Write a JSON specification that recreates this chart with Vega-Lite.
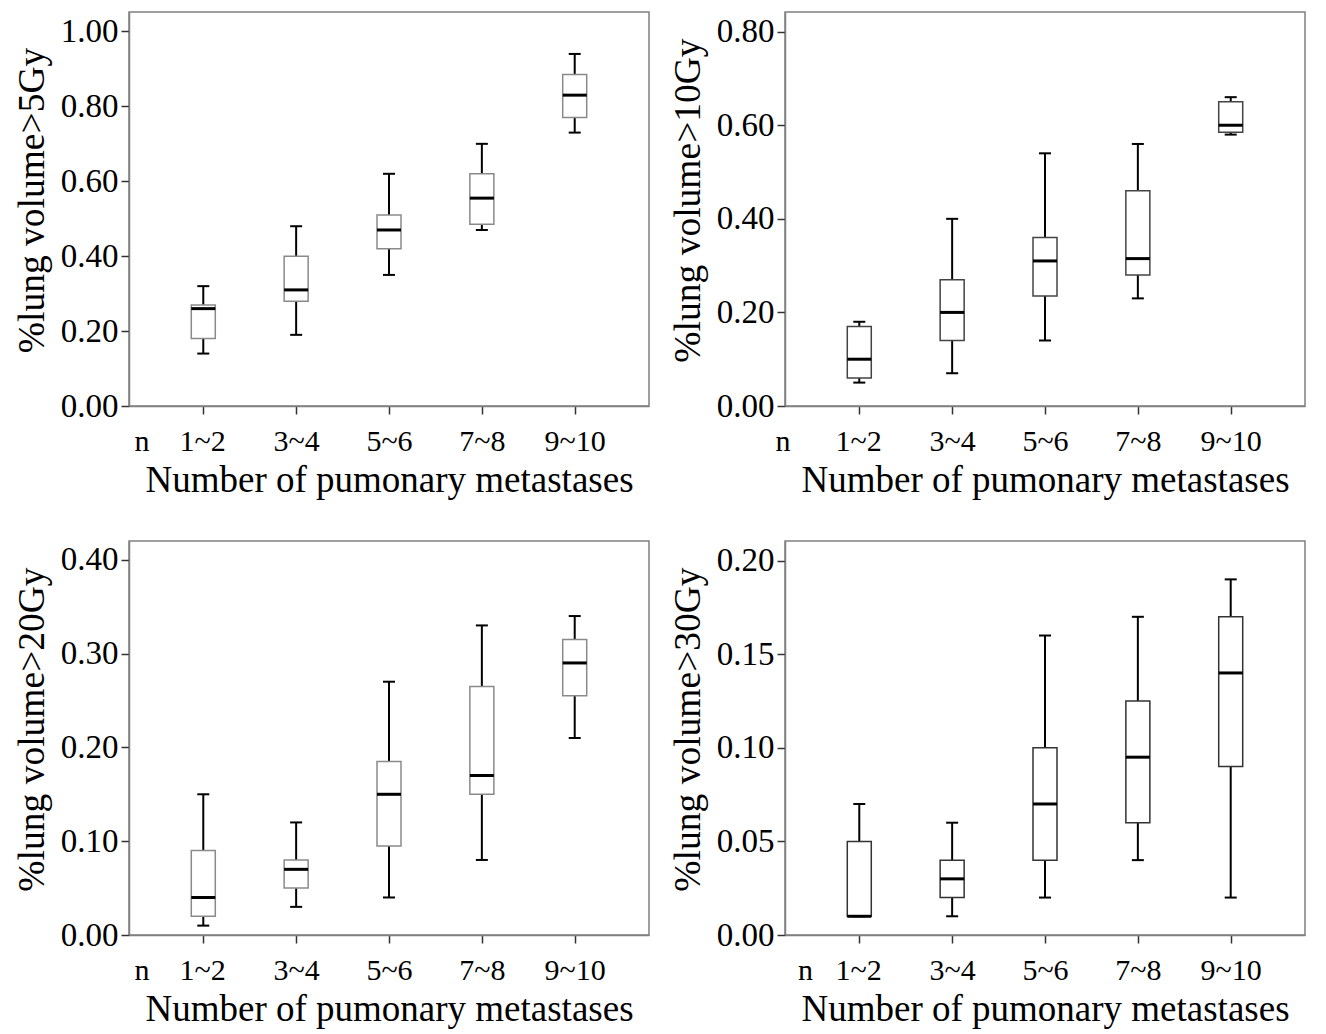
{
  "$schema": "https://vega.github.io/schema/vega-lite/v6.json",
  "background": "white",
  "padding": {"left": 12, "top": 11, "right": 5, "bottom": 5},
  "datasets": {
    "p5": [
      {"cat": "1~2", "min": 0.14, "q1": 0.18, "median": 0.26, "q3": 0.27, "max": 0.32},
      {"cat": "3~4", "min": 0.19, "q1": 0.28, "median": 0.31, "q3": 0.40, "max": 0.48},
      {"cat": "5~6", "min": 0.35, "q1": 0.42, "median": 0.47, "q3": 0.51, "max": 0.62},
      {"cat": "7~8", "min": 0.47, "q1": 0.485, "median": 0.555, "q3": 0.62, "max": 0.70},
      {"cat": "9~10", "min": 0.73, "q1": 0.77, "median": 0.83, "q3": 0.885, "max": 0.94}
    ],
    "p10": [
      {"cat": "1~2", "min": 0.05, "q1": 0.06, "median": 0.10, "q3": 0.17, "max": 0.18},
      {"cat": "3~4", "min": 0.07, "q1": 0.14, "median": 0.20, "q3": 0.27, "max": 0.40},
      {"cat": "5~6", "min": 0.14, "q1": 0.235, "median": 0.31, "q3": 0.36, "max": 0.54},
      {"cat": "7~8", "min": 0.23, "q1": 0.28, "median": 0.315, "q3": 0.46, "max": 0.56},
      {"cat": "9~10", "min": 0.58, "q1": 0.585, "median": 0.60, "q3": 0.65, "max": 0.66}
    ],
    "p20": [
      {"cat": "1~2", "min": 0.01, "q1": 0.02, "median": 0.04, "q3": 0.09, "max": 0.15},
      {"cat": "3~4", "min": 0.03, "q1": 0.05, "median": 0.07, "q3": 0.08, "max": 0.12},
      {"cat": "5~6", "min": 0.04, "q1": 0.095, "median": 0.15, "q3": 0.185, "max": 0.27},
      {"cat": "7~8", "min": 0.08, "q1": 0.15, "median": 0.17, "q3": 0.265, "max": 0.33},
      {"cat": "9~10", "min": 0.21, "q1": 0.255, "median": 0.29, "q3": 0.315, "max": 0.34}
    ],
    "p30": [
      {"cat": "1~2", "min": 0.01, "q1": 0.01, "median": 0.01, "q3": 0.05, "max": 0.07},
      {"cat": "3~4", "min": 0.01, "q1": 0.02, "median": 0.03, "q3": 0.04, "max": 0.06},
      {"cat": "5~6", "min": 0.02, "q1": 0.04, "median": 0.07, "q3": 0.10, "max": 0.16},
      {"cat": "7~8", "min": 0.04, "q1": 0.06, "median": 0.095, "q3": 0.125, "max": 0.17},
      {"cat": "9~10", "min": 0.02, "q1": 0.09, "median": 0.14, "q3": 0.17, "max": 0.19}
    ]
  },
  "columns": 2,
  "spacing": {"column": 18, "row": 41},
  "concat": [
    {
      "width": 520, "height": 394,
      "data": {"name": "p5"},
      "encoding": {
        "x": {"field": "cat", "type": "ordinal", "sort": null,
          "scale": {"type": "point", "padding": 0.8, "domain": ["1~2", "3~4", "5~6", "7~8", "9~10"]},
          "axis": {"title": "Number of pumonary metastases",
            "labelExpr": "datum.value == '1~2' ? 'n\u00a0\u00a0\u00a0\u00a01~2' : datum.label",
            "labelAlign": {"condition": {"test": "datum.value == '1~2'", "value": "right"}, "value": "center"},
            "labelOffset": {"condition": {"test": "datum.value == '1~2'", "value": 22}, "value": 0}}}
      },
      "layer": [
        {"mark": {"type": "rule", "color": "black", "strokeWidth": 2},
         "encoding": {"y": {"field": "min", "type": "quantitative", "title": "%lung volume>5Gy",
            "scale": {"domain": [0, 1.052], "nice": false},
            "axis": {"values": [0, 0.2, 0.4, 0.6, 0.8, 1.0], "format": ".2f"}},
          "y2": {"field": "max"}}},
        {"mark": {"type": "bar", "width": 24, "fill": "white", "stroke": "#8a8a8a", "strokeWidth": 1.5},
         "encoding": {"y": {"field": "q1", "type": "quantitative", "title": "%lung volume>5Gy", "scale": {"domain": [0, 1.052], "nice": false},
            "axis": {"values": [0, 0.2, 0.4, 0.6, 0.8, 1.0], "format": ".2f"}},
          "y2": {"field": "q3"}}},
        {"mark": {"type": "tick", "size": 24, "thickness": 3, "color": "black", "opacity": 1},
         "encoding": {"y": {"field": "median", "type": "quantitative", "title": "%lung volume>5Gy", "scale": {"domain": [0, 1.052], "nice": false},
            "axis": {"values": [0, 0.2, 0.4, 0.6, 0.8, 1.0], "format": ".2f"}}}},
        {"mark": {"type": "tick", "size": 12, "thickness": 2, "color": "black", "opacity": 1},
         "encoding": {"y": {"field": "min", "type": "quantitative", "title": "%lung volume>5Gy", "scale": {"domain": [0, 1.052], "nice": false},
            "axis": {"values": [0, 0.2, 0.4, 0.6, 0.8, 1.0], "format": ".2f"}}}},
        {"mark": {"type": "tick", "size": 12, "thickness": 2, "color": "black", "opacity": 1},
         "encoding": {"y": {"field": "max", "type": "quantitative", "title": "%lung volume>5Gy", "scale": {"domain": [0, 1.052], "nice": false},
            "axis": {"values": [0, 0.2, 0.4, 0.6, 0.8, 1.0], "format": ".2f"}}}}
      ]
    },
    {
      "width": 520, "height": 394,
      "data": {"name": "p10"},
      "encoding": {
        "x": {"field": "cat", "type": "ordinal", "sort": null,
          "scale": {"type": "point", "padding": 0.8, "domain": ["1~2", "3~4", "5~6", "7~8", "9~10"]},
          "axis": {"title": "Number of pumonary metastases",
            "labelExpr": "datum.value == '1~2' ? 'n\u00a0\u00a0\u00a0\u00a0\u00a0\u00a01~2' : datum.label",
            "labelAlign": {"condition": {"test": "datum.value == '1~2'", "value": "right"}, "value": "center"},
            "labelOffset": {"condition": {"test": "datum.value == '1~2'", "value": 22}, "value": 0}}}
      },
      "layer": [
        {"mark": {"type": "rule", "color": "black", "strokeWidth": 2},
         "encoding": {"y": {"field": "min", "type": "quantitative", "title": "%lung volume>10Gy",
            "scale": {"domain": [0, 0.842], "nice": false},
            "axis": {"values": [0, 0.2, 0.4, 0.6, 0.8], "format": ".2f"}},
          "y2": {"field": "max"}}},
        {"mark": {"type": "bar", "width": 24, "fill": "white", "stroke": "#444444", "strokeWidth": 1.5},
         "encoding": {"y": {"field": "q1", "type": "quantitative", "title": "%lung volume>10Gy", "scale": {"domain": [0, 0.842], "nice": false},
            "axis": {"values": [0, 0.2, 0.4, 0.6, 0.8], "format": ".2f"}},
          "y2": {"field": "q3"}}},
        {"mark": {"type": "tick", "size": 24, "thickness": 3, "color": "black", "opacity": 1},
         "encoding": {"y": {"field": "median", "type": "quantitative", "title": "%lung volume>10Gy", "scale": {"domain": [0, 0.842], "nice": false},
            "axis": {"values": [0, 0.2, 0.4, 0.6, 0.8], "format": ".2f"}}}},
        {"mark": {"type": "tick", "size": 12, "thickness": 2, "color": "black", "opacity": 1},
         "encoding": {"y": {"field": "min", "type": "quantitative", "title": "%lung volume>10Gy", "scale": {"domain": [0, 0.842], "nice": false},
            "axis": {"values": [0, 0.2, 0.4, 0.6, 0.8], "format": ".2f"}}}},
        {"mark": {"type": "tick", "size": 12, "thickness": 2, "color": "black", "opacity": 1},
         "encoding": {"y": {"field": "max", "type": "quantitative", "title": "%lung volume>10Gy", "scale": {"domain": [0, 0.842], "nice": false},
            "axis": {"values": [0, 0.2, 0.4, 0.6, 0.8], "format": ".2f"}}}}
      ]
    },
    {
      "width": 520, "height": 394,
      "data": {"name": "p20"},
      "encoding": {
        "x": {"field": "cat", "type": "ordinal", "sort": null,
          "scale": {"type": "point", "padding": 0.8, "domain": ["1~2", "3~4", "5~6", "7~8", "9~10"]},
          "axis": {"title": "Number of pumonary metastases",
            "labelExpr": "datum.value == '1~2' ? 'n\u00a0\u00a0\u00a0\u00a01~2' : datum.label",
            "labelAlign": {"condition": {"test": "datum.value == '1~2'", "value": "right"}, "value": "center"},
            "labelOffset": {"condition": {"test": "datum.value == '1~2'", "value": 22}, "value": 0}}}
      },
      "layer": [
        {"mark": {"type": "rule", "color": "black", "strokeWidth": 2},
         "encoding": {"y": {"field": "min", "type": "quantitative", "title": "%lung volume>20Gy",
            "scale": {"domain": [0, 0.42], "nice": false},
            "axis": {"values": [0, 0.1, 0.2, 0.3, 0.4], "format": ".2f"}},
          "y2": {"field": "max"}}},
        {"mark": {"type": "bar", "width": 24, "fill": "white", "stroke": "#8a8a8a", "strokeWidth": 1.5},
         "encoding": {"y": {"field": "q1", "type": "quantitative", "title": "%lung volume>20Gy", "scale": {"domain": [0, 0.42], "nice": false},
            "axis": {"values": [0, 0.1, 0.2, 0.3, 0.4], "format": ".2f"}},
          "y2": {"field": "q3"}}},
        {"mark": {"type": "tick", "size": 24, "thickness": 3, "color": "black", "opacity": 1},
         "encoding": {"y": {"field": "median", "type": "quantitative", "title": "%lung volume>20Gy", "scale": {"domain": [0, 0.42], "nice": false},
            "axis": {"values": [0, 0.1, 0.2, 0.3, 0.4], "format": ".2f"}}}},
        {"mark": {"type": "tick", "size": 12, "thickness": 2, "color": "black", "opacity": 1},
         "encoding": {"y": {"field": "min", "type": "quantitative", "title": "%lung volume>20Gy", "scale": {"domain": [0, 0.42], "nice": false},
            "axis": {"values": [0, 0.1, 0.2, 0.3, 0.4], "format": ".2f"}}}},
        {"mark": {"type": "tick", "size": 12, "thickness": 2, "color": "black", "opacity": 1},
         "encoding": {"y": {"field": "max", "type": "quantitative", "title": "%lung volume>20Gy", "scale": {"domain": [0, 0.42], "nice": false},
            "axis": {"values": [0, 0.1, 0.2, 0.3, 0.4], "format": ".2f"}}}}
      ]
    },
    {
      "width": 520, "height": 394,
      "data": {"name": "p30"},
      "encoding": {
        "x": {"field": "cat", "type": "ordinal", "sort": null,
          "scale": {"type": "point", "padding": 0.8, "domain": ["1~2", "3~4", "5~6", "7~8", "9~10"]},
          "axis": {"title": "Number of pumonary metastases",
            "labelExpr": "datum.value == '1~2' ? 'n\u00a0\u00a0\u00a01~2' : datum.label",
            "labelAlign": {"condition": {"test": "datum.value == '1~2'", "value": "right"}, "value": "center"},
            "labelOffset": {"condition": {"test": "datum.value == '1~2'", "value": 22}, "value": 0}}}
      },
      "layer": [
        {"mark": {"type": "rule", "color": "black", "strokeWidth": 2},
         "encoding": {"y": {"field": "min", "type": "quantitative", "title": "%lung volume>30Gy",
            "scale": {"domain": [0, 0.2105], "nice": false},
            "axis": {"values": [0, 0.05, 0.1, 0.15, 0.2], "format": ".2f"}},
          "y2": {"field": "max"}}},
        {"mark": {"type": "bar", "width": 24, "fill": "white", "stroke": "#333333", "strokeWidth": 1.5},
         "encoding": {"y": {"field": "q1", "type": "quantitative", "title": "%lung volume>30Gy", "scale": {"domain": [0, 0.2105], "nice": false},
            "axis": {"values": [0, 0.05, 0.1, 0.15, 0.2], "format": ".2f"}},
          "y2": {"field": "q3"}}},
        {"mark": {"type": "tick", "size": 24, "thickness": 3, "color": "black", "opacity": 1},
         "encoding": {"y": {"field": "median", "type": "quantitative", "title": "%lung volume>30Gy", "scale": {"domain": [0, 0.2105], "nice": false},
            "axis": {"values": [0, 0.05, 0.1, 0.15, 0.2], "format": ".2f"}}}},
        {"mark": {"type": "tick", "size": 12, "thickness": 2, "color": "black", "opacity": 1},
         "encoding": {"y": {"field": "min", "type": "quantitative", "title": "%lung volume>30Gy", "scale": {"domain": [0, 0.2105], "nice": false},
            "axis": {"values": [0, 0.05, 0.1, 0.15, 0.2], "format": ".2f"}}}},
        {"mark": {"type": "tick", "size": 12, "thickness": 2, "color": "black", "opacity": 1},
         "encoding": {"y": {"field": "max", "type": "quantitative", "title": "%lung volume>30Gy", "scale": {"domain": [0, 0.2105], "nice": false},
            "axis": {"values": [0, 0.05, 0.1, 0.15, 0.2], "format": ".2f"}}}}
      ]
    }
  ],
  "config": {
    "view": {"stroke": "#808080", "strokeWidth": 1.5},
    "axis": {"labelFont": "Liberation Serif", "titleFont": "Liberation Serif", "labelColor": "black", "titleColor": "black",
      "titleFontWeight": "normal", "domainColor": "#808080", "domainWidth": 1.5, "tickColor": "#333333", "tickWidth": 1.5,
      "grid": false, "tickSize": 8, "labelOverlap": false, "labelBound": false},
    "axisX": {"labelFontSize": 30, "titleFontSize": 37, "labelAngle": 0, "labelPadding": 12, "titlePadding": 6},
    "axisY": {"labelFontSize": 33, "titleFontSize": 37.5, "titlePadding": 9, "labelPadding": 3, "titleY": 188}
  }
}
